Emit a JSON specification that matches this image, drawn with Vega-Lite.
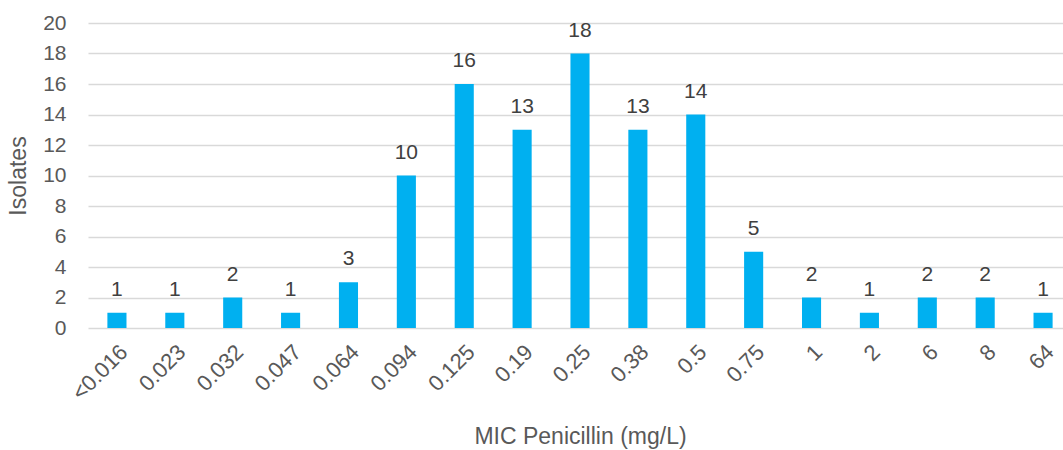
{
  "$schema": "https://vega.github.io/schema/vega-lite/v6.json",
  "autosize": "none",
  "width": 984,
  "height": 305,
  "padding": {"left": 88, "top": 23, "right": 0, "bottom": 122},
  "background": "white",
  "config": {
    "font": "Liberation Sans",
    "view": {"stroke": null}
  },
  "data": {
    "values": [
      {"mic": "<0.016", "isolates": 1},
      {"mic": "0.023", "isolates": 1},
      {"mic": "0.032", "isolates": 2},
      {"mic": "0.047", "isolates": 1},
      {"mic": "0.064", "isolates": 3},
      {"mic": "0.094", "isolates": 10},
      {"mic": "0.125", "isolates": 16},
      {"mic": "0.19", "isolates": 13},
      {"mic": "0.25", "isolates": 18},
      {"mic": "0.38", "isolates": 13},
      {"mic": "0.5", "isolates": 14},
      {"mic": "0.75", "isolates": 5},
      {"mic": "1", "isolates": 2},
      {"mic": "2", "isolates": 1},
      {"mic": "6", "isolates": 2},
      {"mic": "8", "isolates": 2},
      {"mic": "64", "isolates": 1}
    ]
  },
  "encoding": {
    "x": {
      "field": "mic",
      "type": "nominal",
      "sort": null,
      "scale": {"paddingInner": 0.67, "paddingOuter": 0.335},
      "axis": {
        "title": "MIC Penicillin (mg/L)",
        "titleFontSize": 23,
        "titleFontWeight": "normal",
        "titleColor": "#595959",
        "titlePadding": 22,
        "labelAngle": -45,
        "labelFontSize": 22,
        "labelColor": "#595959",
        "labelPadding": 13,
        "ticks": false,
        "domain": false,
        "grid": false
      }
    },
    "y": {
      "field": "isolates",
      "type": "quantitative",
      "scale": {"domain": [0, 20]},
      "axis": {
        "title": "Isolates",
        "titleFontSize": 23,
        "titleFontWeight": "normal",
        "titleColor": "#595959",
        "titlePadding": 12,
        "values": [0, 2, 4, 6, 8, 10, 12, 14, 16, 18, 20],
        "labelFontSize": 21,
        "labelColor": "#595959",
        "labelPadding": 22,
        "ticks": false,
        "domain": false,
        "grid": true,
        "gridColor": "#d9d9d9",
        "gridWidth": 1.5
      }
    }
  },
  "layer": [
    {"mark": {"type": "bar", "color": "#00b0f0"}},
    {
      "mark": {
        "type": "text",
        "baseline": "alphabetic",
        "dy": -17,
        "fontSize": 21,
        "color": "#404040"
      },
      "encoding": {"text": {"field": "isolates", "type": "quantitative"}}
    }
  ]
}
